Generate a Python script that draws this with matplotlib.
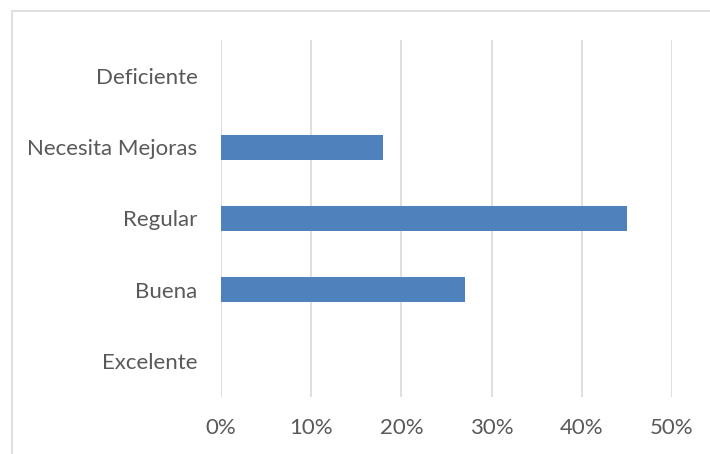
import matplotlib.pyplot as plt
from matplotlib.patches import Rectangle
from matplotlib.ticker import PercentFormatter

# Data
categorias = ['Excelente', 'Buena', 'Regular', 'Necesita Mejoras', 'Deficiente']
valores = [0, 27, 45, 18, 0]
x_ticks = [0, 10, 20, 30, 40, 50]

plt.rcParams['font.family'] = ['Lato', 'DejaVu Sans']

fig = plt.figure(figsize=(7.10, 4.54), dpi=100)
ax = fig.add_axes([221 / 710, 1 - 397 / 454, (672 - 221) / 710, (397 - 40) / 454])

ax.barh(range(len(categorias)), valores, height=0.35, color='#4F81BD', zorder=3)

ax.set_xlim(0, 50)
ax.set_ylim(-0.5, len(categorias) - 0.5)
ax.set_xticks(x_ticks)
ax.xaxis.set_major_formatter(PercentFormatter(decimals=0))
ax.set_yticks(range(len(categorias)))
ax.set_yticklabels(categorias)
ax.grid(axis='x', color='#D9D9D9', linewidth=1.2, zorder=0)
ax.tick_params(axis='both', length=0, labelsize=16, colors='#595959')
ax.tick_params(axis='y', pad=17)
ax.tick_params(axis='x', pad=15)
for s in ax.spines.values():
    s.set_visible(False)

# chart border
fig.patches.append(Rectangle((12 / 710, -0.1), 1.2, 1 - 11 / 454 + 0.1,
                             transform=fig.transFigure, fill=False,
                             edgecolor='#D9D9D9', linewidth=1.2))

fig.savefig('out.png', dpi=100, facecolor='white')
